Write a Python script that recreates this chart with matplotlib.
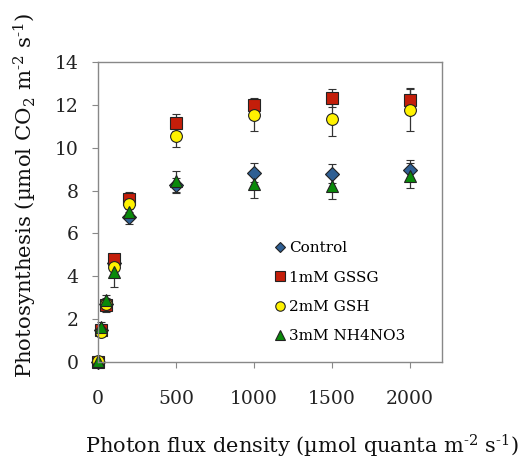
import matplotlib
matplotlib.use("Agg")
import matplotlib.pyplot as plt
import numpy as np

plt.rcParams['font.family'] = ['DejaVu Serif']
plt.rcParams['mathtext.fontset'] = 'dejavuserif'

ppfd = [0, 20, 50, 100, 200, 500, 1000, 1500, 2000]

control = [0.0, 1.5, 2.7, 4.6, 6.77, 8.24, 8.83, 8.79, 8.97]
control_err = [0.05, 0.2, 0.25, 0.3, 0.35, 0.35, 0.45, 0.45, 0.45]

gssg = [0.0, 1.48, 2.64, 4.8, 7.62, 11.17, 11.98, 12.32, 12.24]
gssg_err = [0.05, 0.2, 0.3, 0.25, 0.3, 0.4, 0.27, 0.4, 0.5]

gsh = [0.05, 1.4, 2.7, 4.43, 7.36, 10.54, 11.54, 11.35, 11.77]
gsh_err = [0.05, 0.2, 0.3, 0.4, 0.35, 0.5, 0.77, 0.8, 1.0]

nh4 = [0.05, 1.63, 2.88, 4.2, 7.0, 8.43, 8.29, 8.21, 8.7]
nh4_err = [0.05, 0.25, 0.25, 0.7, 0.35, 0.5, 0.65, 0.6, 0.6]

labels = ['Control', '1mM GSSG', '2mM GSH', '3mM NH4NO3']
series = [control, gssg, gsh, nh4]
errs = [control_err, gssg_err, gsh_err, nh4_err]
colors = ['#2F5F93', '#C41E0A', '#FFF200', '#0A8A0A']
markers = ['D', 's', 'o', '^']
msizes = [7, 8.5, 8.5, 8.5]

fig = plt.figure(figsize=(5.31, 4.59), dpi=100)
ax = fig.add_axes([98 / 531, 1 - 362 / 459, 344 / 531, 300 / 459])

for y, e, c, m, ms, lab in zip(series, errs, colors, markers, msizes, labels):
    ax.errorbar(ppfd, y, yerr=e, fmt=m, color=c, markersize=ms,
                markeredgecolor='#222222', markeredgewidth=0.8,
                ecolor='#333333', elinewidth=0.9, capsize=3, capthick=0.9,
                label=lab, clip_on=False)

ax.set_xlim(0, 2205)
ax.set_ylim(0, 14)
ax.set_xticks([0, 500, 1000, 1500, 2000])
ax.set_yticks(range(0, 15, 2))
for s in ax.spines.values():
    s.set_color('#888888')
    s.set_linewidth(1.0)
ax.tick_params(axis='both', direction='out', color='#888888', length=4.3,
               labelsize=13.5, labelcolor='#222222')
ax.tick_params(axis='x', pad=16)
ax.tick_params(axis='y', pad=9.5)

fig.text(302 / 531, 1 - 446 / 459,
         r'Photon flux density (µmol quanta m$^{\text{-2}}$ s$^{\text{-1}}$)',
         fontsize=15, ha='center', va='center', color='#111111')
fig.text(25 / 531, 1 - 195 / 459,
         r'Photosynthesis (µmol CO$_{\text{2}}$ m$^{\text{-2}}$ s$^{\text{-1}}$)',
         fontsize=15.3, ha='center', va='center', rotation=90, color='#111111')

handles, labs = ax.get_legend_handles_labels()
handles = [h[0] for h in handles]
leg = ax.legend(handles, labs, loc='upper left', bbox_to_anchor=(0.512, 0.402),
                frameon=False, fontsize=11, handletextpad=0.18, handlelength=0.8,
                labelspacing=1.0, markerscale=0.8, borderpad=0, borderaxespad=0)

fig.savefig('out.png', dpi=100)
